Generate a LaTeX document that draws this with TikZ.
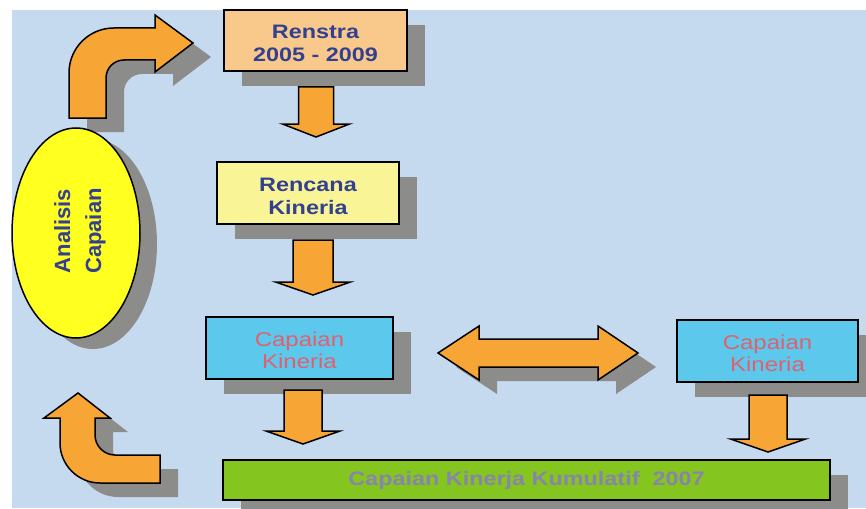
\documentclass[tikz,border=0pt]{standalone}
\usepackage{fontspec}
\setmainfont{Liberation Sans}
\usetikzlibrary{calc,shadows,shapes.geometric}
\definecolor{bgblue}{HTML}{C6DAEF}
\definecolor{arroworange}{HTML}{F7A535}
\definecolor{shadowc}{HTML}{8C8C8A}
\definecolor{peach}{HTML}{F9C98C}
\definecolor{paleyellow}{HTML}{F9F596}
\definecolor{cyanbox}{HTML}{5CC8EC}
\definecolor{greenbar}{HTML}{84C520}
\definecolor{ellyellow}{HTML}{FFFF20}
\definecolor{navytext}{HTML}{33408F}
\definecolor{salmontext}{HTML}{E2606E}
\definecolor{graytext}{HTML}{8884AC}
\newcommand\wtxt[2][10pt]{\raisebox{0pt}[\dimexpr\height+#1\relax][\depth]{\scalebox{1.2}[1]{\begin{tabular}{@{}c@{}}#2\end{tabular}}}}
\newcommand\blockdown[5]{% start, tip, style, shaft half, head half
  \path[#3] ($(#1)+(-#4,0)$) -- ($(#2)+(-#4,-13)$) -- ($(#2)+(-#5,-13)$) -- (#2)
    -- ($(#2)+(#5,-13)$) -- ($(#2)+(#4,-13)$) -- ($(#1)+(#4,0)$) -- cycle;}
\begin{document}
\begin{tikzpicture}[x=1pt,y=-1pt,
  outl/.style={draw=black,line width=1.5pt,line join=miter},
  arr/.style={outl,fill=arroworange},
  shd/.style={fill=shadowc,draw=none},
  boxstyle/.style={outl,rectangle,align=center,inner sep=0pt,
    drop shadow={shadow xshift=18pt,shadow yshift=-15pt,fill=shadowc,opacity=1}},
  bluetxt/.style={text=navytext,font=\bfseries\upshape\fontsize{19.5}{23}\selectfont},
  pinktxt/.style={text=salmontext,font=\fontsize{20}{22}\selectfont}]
\useasboundingbox (0,0) rectangle (866,508);
\fill[white] (0,0) rectangle (866,508);
\fill[bgblue] (12,10) rectangle (866,508);

% coordinates of block-arrow ends
\coordinate (a1s) at (316,87);  \coordinate (a1t) at (316,137);
\coordinate (a2s) at (313,240); \coordinate (a2t) at (313,295);
\coordinate (a3s) at (303,390); \coordinate (a3t) at (303,444);
\coordinate (a4s) at (768,395); \coordinate (a4t) at (768,452);

% shadows of the arrows
\begin{scope}[shift={(18,14)}]
\blockdown{a1s}{a1t}{shd}{17.5}{33.5}
\blockdown{a2s}{a2t}{shd}{20}{37.5}
\blockdown{a3s}{a3t}{shd}{19}{37}
\blockdown{a4s}{a4t}{shd}{19}{37.5}
\path[shd] (438,353) -- (479,326) -- (479,339) -- (598,339) -- (598,326) -- (638,353)
  -- (598,380) -- (598,367) -- (479,367) -- (479,380) -- cycle;
\path[shd] (69,118) -- (69,73) .. controls (69,48) and (89,28) .. (114,28) -- (155,28)
  -- (155,15) -- (193,43) -- (155,72) -- (155,60) -- (124,60)
  .. controls (114,60) and (106,68) .. (106,78) -- (106,118) -- cycle;
\path[shd] (160,455) -- (115,455) .. controls (104,455) and (95,446) .. (95,435)
  -- (95,418) -- (110,418) -- (78,393) -- (44,418) -- (60,418) -- (60,443)
  .. controls (60,465) and (78,483) .. (100,483) -- (160,483) -- cycle;
\end{scope}

% boxes
\node[boxstyle,fill=peach,minimum width=183pt,minimum height=61pt,bluetxt]
  (renstra) at (315.5,40.5) {\wtxt{Renstra\\2005 - 2009}};
\node[boxstyle,fill=paleyellow,minimum width=182pt,minimum height=62pt,bluetxt]
  (rencana) at (308,193) {\wtxt{Rencana\\Kineria}};
\node[boxstyle,fill=cyanbox,minimum width=187pt,minimum height=62pt,pinktxt]
  (cap1) at (299.5,348) {\wtxt[11pt]{Capaian\\Kineria}};
\node[boxstyle,fill=cyanbox,minimum width=181pt,minimum height=62pt,pinktxt]
  (cap2) at (767.5,351) {\wtxt[11pt]{Capaian\\Kineria}};
\node[boxstyle,fill=greenbar,minimum width=607pt,minimum height=40pt,
  text=graytext,font=\bfseries\upshape\fontsize{19.5}{22}\selectfont]
  (bar) at (526.5,480) {\wtxt[3pt]{Capaian Kinerja Kumulatif\ \ 2007}};
\node[outl,ellipse,fill=ellyellow,minimum width=128pt,minimum height=210pt,inner sep=0pt,
  drop shadow={shadow xshift=17pt,shadow yshift=-11pt,fill=shadowc,opacity=1}]
  (analisis) at (76,233) {};
\node[rotate=90,align=center,text=navytext,font=\bfseries\fontsize{22}{31}\selectfont]
  (analisistxt) at (80,231) {Analisis\\Capaian};

% arrows
\blockdown{a1s}{a1t}{arr}{17.5}{33.5}
\blockdown{a2s}{a2t}{arr}{20}{37.5}
\blockdown{a3s}{a3t}{arr}{19}{37}
\blockdown{a4s}{a4t}{arr}{19}{37.5}
\path[arr] (438,353) -- (479,326) -- (479,339) -- (598,339) -- (598,326) -- (638,353)
  -- (598,380) -- (598,367) -- (479,367) -- (479,380) -- cycle;
\path[arr] (69,118) -- (69,73) .. controls (69,48) and (89,28) .. (114,28) -- (155,28)
  -- (155,15) -- (193,43) -- (155,72) -- (155,60) -- (124,60)
  .. controls (114,60) and (106,68) .. (106,78) -- (106,118) -- cycle;
\path[arr] (160,455) -- (115,455) .. controls (104,455) and (95,446) .. (95,435)
  -- (95,418) -- (110,418) -- (78,393) -- (44,418) -- (60,418) -- (60,443)
  .. controls (60,465) and (78,483) .. (100,483) -- (160,483) -- cycle;
\end{tikzpicture}
\end{document}
